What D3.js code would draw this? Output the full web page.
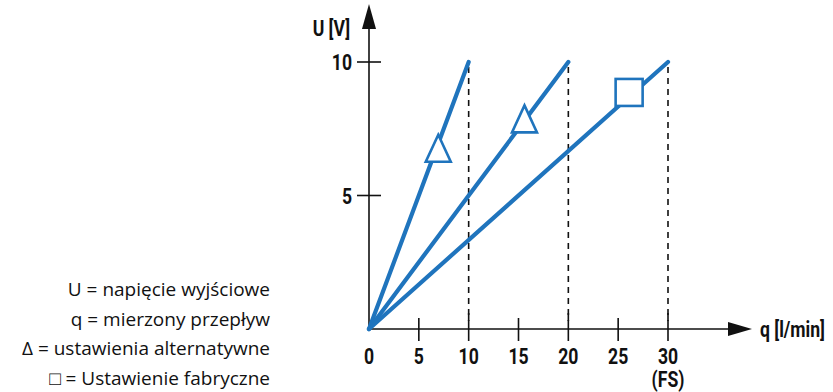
<!DOCTYPE html>
<html>
<head>
<meta charset="utf-8">
<script src="https://cdn.jsdelivr.net/npm/d3@7"></script>
<style>
  html, body { margin: 0; padding: 0; background: #fff; }
  svg { display: block; }
</style>
</head>
<body>
<svg id="chart" width="833" height="392"></svg>
<script>
// Output voltage vs. measured flow for three full-scale settings
const xTicks = [0, 5, 10, 15, 20, 25, 30];
const yTicks = [5, 10];
const fullScale = [10, 20, 30];          // flow at which each line reaches 10 V
const maxVoltage = 10;
const alternativeMarks = [ { q: 6.95, u: 6.6 }, { q: 15.6, u: 7.7 } ];  // Δ
const factoryMarks = [ { q: 26.1, u: 8.86 } ];                         // □
const legendLines = [
  "U = napięcie wyjściowe",
  "q = mierzony przepływ",
  "Δ = ustawienia alternatywne",
  "□ = Ustawienie fabryczne"
];

const blue = "#1f74bd";
const ink = "#111";

const svg = d3.select("#chart");
const x = d3.scaleLinear().domain([0, 30]).range([369, 668]);
const y = d3.scaleLinear().domain([0, 10]).range([329, 62]);

// dashed guides from full-scale points down to the axis
svg.append("g").selectAll("line").data(fullScale).join("line")
  .attr("x1", d => x(d)).attr("x2", d => x(d))
  .attr("y1", y(maxVoltage) + 5).attr("y2", y(0) - 8)
  .attr("stroke", ink).attr("stroke-width", 1.6)
  .attr("stroke-dasharray", "6,5");

// axes
const axisG = svg.append("g");
axisG.append("line")
  .attr("x1", x(0)).attr("x2", 735)
  .attr("y1", y(0)).attr("y2", y(0))
  .attr("stroke", ink).attr("stroke-width", 1.6);
axisG.append("path")
  .attr("d", `M752,${y(0)} L728,${y(0) - 7} L728,${y(0) + 7} Z`)
  .attr("fill", ink);
axisG.append("line")
  .attr("x1", x(0)).attr("x2", x(0))
  .attr("y1", y(0)).attr("y2", 20)
  .attr("stroke", ink).attr("stroke-width", 1.6);
axisG.append("path")
  .attr("d", `M${x(0)},4 L${x(0) - 7},29 L${x(0) + 7},29 Z`)
  .attr("fill", ink);

// x ticks
axisG.selectAll(".xt").data(xTicks.filter(d => d > 0)).join("line")
  .attr("class", "xt")
  .attr("x1", d => x(d)).attr("x2", d => x(d))
  .attr("y1", d => fullScale.includes(d) ? y(0) - 16 : y(0) - 11)
  .attr("y2", y(0) + 12)
  .attr("stroke", ink).attr("stroke-width", 1.6);

// y ticks
axisG.selectAll(".yt").data(yTicks).join("line")
  .attr("class", "yt")
  .attr("x1", x(0) - 12).attr("x2", x(0) + 12)
  .attr("y1", d => y(d)).attr("y2", d => y(d))
  .attr("stroke", ink).attr("stroke-width", 1.6);

const boldFont = "Roboto, 'DejaVu Sans', sans-serif";
function condensedText(g, tx, ty, str, anchor, size) {
  return g.append("text")
    .attr("transform", `translate(${tx},${ty}) scale(0.8,1)`)
    .attr("text-anchor", anchor)
    .attr("font-family", boldFont)
    .attr("font-weight", 700)
    .attr("font-size", size)
    .attr("fill", ink)
    .text(str);
}

xTicks.forEach(d => condensedText(svg, x(d), y(0) + 35, String(d), "middle", 22));
condensedText(svg, x(30), y(0) + 58, "(FS)", "middle", 22);
yTicks.forEach(d => condensedText(svg, x(0) - 17, y(d) + 8, String(d), "end", 22));
condensedText(svg, 350, 36, "U [V]", "end", 22);
condensedText(svg, 760, y(0) + 8, "q [l/min]", "start", 22);

// characteristic lines
svg.append("g").selectAll("line").data(fullScale).join("line")
  .attr("x1", x(0)).attr("y1", y(0))
  .attr("x2", d => x(d)).attr("y2", y(maxVoltage))
  .attr("stroke", blue).attr("stroke-width", 4.2)
  .attr("stroke-linecap", "round");

// setting markers
svg.append("g").selectAll("path").data(alternativeMarks).join("path")
  .attr("transform", d => `translate(${x(d.q)},${y(d.u)})`)
  .attr("d", "M0,-18 L12.5,9 L-12.5,9 Z")
  .attr("fill", "#fff").attr("stroke", blue).attr("stroke-width", 2.6)
  .attr("stroke-linejoin", "miter");
svg.append("g").selectAll("rect").data(factoryMarks).join("rect")
  .attr("x", d => x(d.q) - 13.5).attr("y", d => y(d.u) - 13.5)
  .attr("width", 27).attr("height", 27)
  .attr("fill", "#fff").attr("stroke", blue).attr("stroke-width", 2.6);

// legend
svg.append("g").selectAll("text").data(legendLines).join("text")
  .attr("x", 270)
  .attr("y", (d, i) => 296 + i * 29.5)
  .attr("text-anchor", "end")
  .attr("font-family", "'Open Sans', 'Noto Sans', sans-serif")
  .attr("font-size", 19)
  .attr("fill", ink)
  .text(d => d);
</script>
</body>
</html>
